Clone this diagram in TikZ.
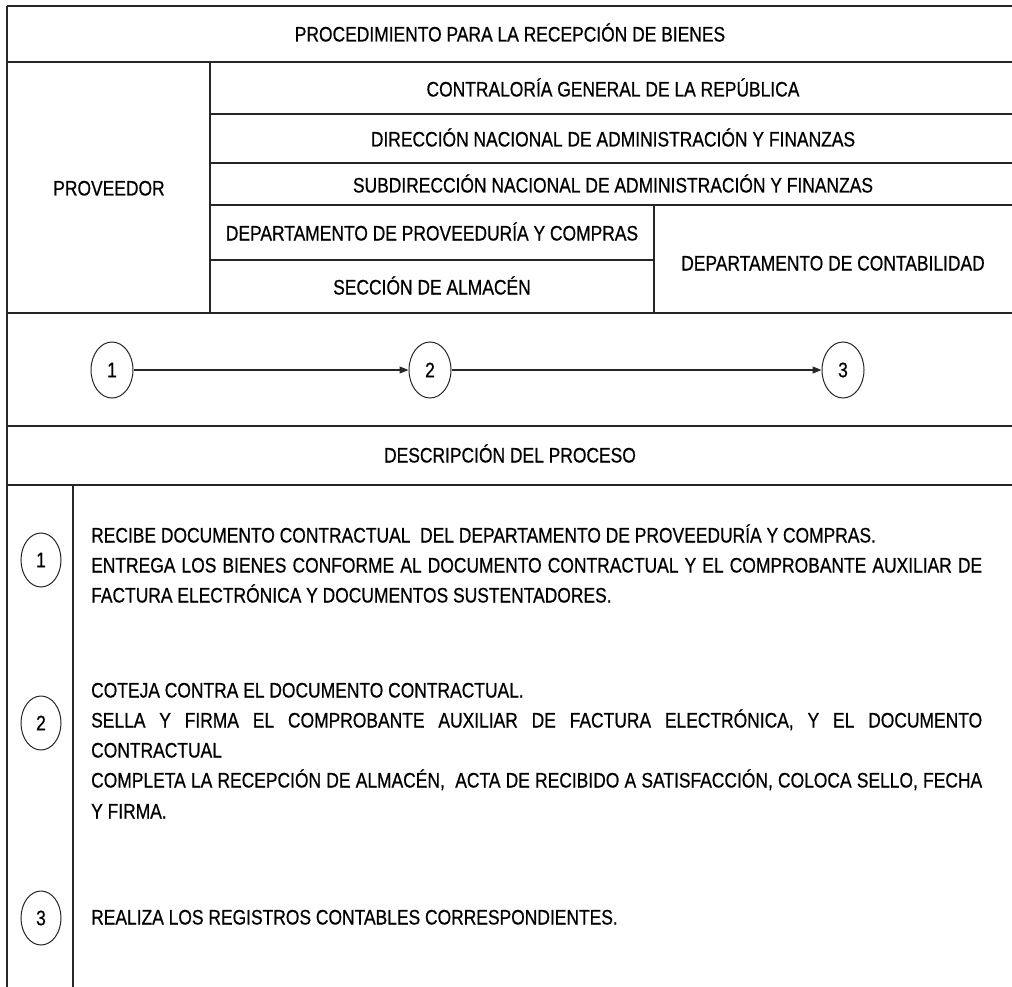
\documentclass[tikz,border=0pt]{standalone}
\usepackage{fontspec}
\setmainfont{Liberation Sans}[FakeStretch=0.83,FakeBold=0.6]
\usetikzlibrary{shapes.geometric,arrows.meta}
\begin{document}
\begin{tikzpicture}[x=1pt,y=-1pt,
  rule/.style={line width=1.1pt,draw=black!85},
  lbl/.style={inner sep=0pt,text height=15pt,text depth=0pt,font=\fontsize{21}{25}\selectfont},
  numnode/.style={ellipse,draw=black!85,line width=1pt,minimum width=42pt,minimum height=56pt,inner sep=0pt,font=\fontsize{21}{25}\selectfont},
  flow/.style={line width=1.1pt,draw=black!85,-{Triangle[length=9pt,width=7pt]}}]
\useasboundingbox (0,0) rectangle (1012,987);
% grid lines
\draw[rule] (7,6) -- (1012,6);
\draw[rule] (7,62) -- (1012,62);
\draw[rule] (210,114) -- (1012,114);
\draw[rule] (210,163) -- (1012,163);
\draw[rule] (210,205) -- (1012,205);
\draw[rule] (210,260) -- (654,260);
\draw[rule] (7,313) -- (1012,313);
\draw[rule] (7,426) -- (1012,426);
\draw[rule] (7,485) -- (1012,485);
\draw[rule] (7,6) -- (7,987);
\draw[rule] (210,62) -- (210,313);
\draw[rule] (654,205) -- (654,313);
\draw[rule] (73,485) -- (73,987);
% header texts
\node[lbl] (title) at (510,34) {PROCEDIMIENTO PARA LA RECEPCIÓN DE BIENES};
\node[lbl] (contraloria) at (613,89) {CONTRALORÍA GENERAL DE LA REPÚBLICA};
\node[lbl] (direccion) at (613,139) {DIRECCIÓN NACIONAL DE ADMINISTRACIÓN Y FINANZAS};
\node[lbl] (subdir) at (613,185) {SUBDIRECCIÓN NACIONAL DE ADMINISTRACIÓN Y FINANZAS};
\node[lbl] (deptprov) at (432,233) {DEPARTAMENTO DE PROVEEDURÍA Y COMPRAS};
\node[lbl] (almacen) at (432,287) {SECCIÓN DE ALMACÉN};
\node[lbl] (contab) at (833,263) {DEPARTAMENTO DE CONTABILIDAD};
\node[lbl] (proveedor) at (109,188) {PROVEEDOR};
% flow
\node[numnode] (c1) at (112,370) {1};
\node[numnode] (c2) at (430,370) {2};
\node[numnode] (c3) at (843,370) {3};
\draw[flow] (c1) -- (c2);
\draw[flow] (c2) -- (c3);
% description
\node[lbl] (desc) at (510,455) {DESCRIPCIÓN DEL PROCESO};
\node[numnode,minimum width=40pt,minimum height=54pt] (d1) at (41,560) {1};
\node[numnode,minimum width=40pt,minimum height=54pt] (d2) at (41,723) {2};
\node[numnode,minimum width=40pt,minimum height=54pt] (d3) at (41,918) {3};
\node[lbl,anchor=west] (t1a) at (91,535) {RECIBE DOCUMENTO CONTRACTUAL\ \ DEL DEPARTAMENTO DE PROVEEDURÍA Y COMPRAS.};
\node[lbl,anchor=west] (t1b) at (91,565) {\makebox[891pt][s]{ENTREGA LOS BIENES CONFORME AL DOCUMENTO CONTRACTUAL Y EL COMPROBANTE AUXILIAR DE}};
\node[lbl,anchor=west] (t1c) at (91,595) {FACTURA ELECTRÓNICA Y DOCUMENTOS SUSTENTADORES.};
\node[lbl,anchor=west] (t2a) at (91,690) {COTEJA CONTRA EL DOCUMENTO CONTRACTUAL.};
\node[lbl,anchor=west] (t2b) at (91,720) {\makebox[891pt][s]{SELLA Y FIRMA EL COMPROBANTE AUXILIAR DE FACTURA ELECTRÓNICA, Y EL DOCUMENTO}};
\node[lbl,anchor=west] (t2c) at (91,750) {CONTRACTUAL};
\node[lbl,anchor=west] (t2d) at (91,780) {\makebox[891pt][s]{COMPLETA LA RECEPCIÓN DE ALMACÉN,\ \ ACTA DE RECIBIDO A SATISFACCIÓN, COLOCA SELLO, FECHA}};
\node[lbl,anchor=west] (t2e) at (91,811) {Y FIRMA.};
\node[lbl,anchor=west] (t3a) at (91,917) {REALIZA LOS REGISTROS CONTABLES CORRESPONDIENTES.};
\end{tikzpicture}
\end{document}
